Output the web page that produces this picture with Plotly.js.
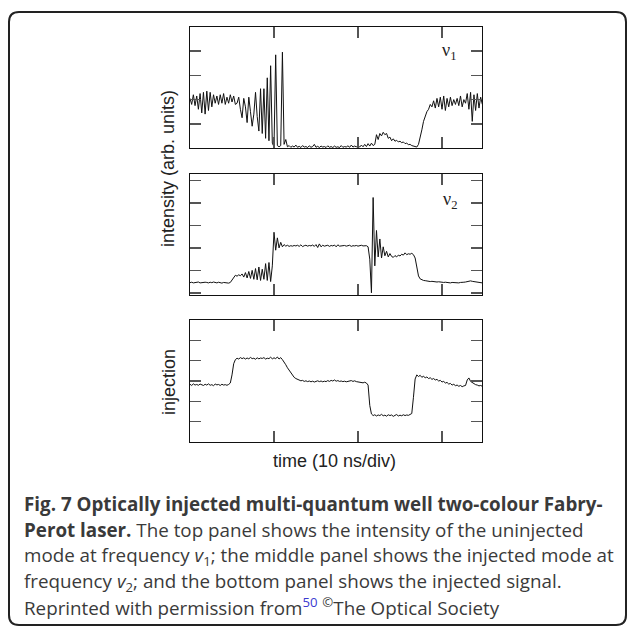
<!DOCTYPE html>
<html>
<head>
<meta charset="utf-8">
<script src="https://cdn.plot.ly/plotly-3.0.1.min.js"></script>
<style>html,body{margin:0;padding:0;background:#fff;}#chart{width:629px;height:628px;}</style>
</head>
<body>
<div id="chart"></div>
<script>
// Oscilloscope sample interval (divisions per sample); traces are sampled on a uniform time base
const dt = 0.02;

// Top panel: intensity of uninjected mode, nu1 (arb. units)
const nu1 = [2.05,1.80,2.20,1.75,2.15,1.60,2.25,1.45,2.30,1.40,
 2.35,1.55,2.30,1.70,2.20,1.85,2.15,1.80,2.20,1.85,
 2.25,1.80,2.10,1.85,2.20,1.90,2.15,1.80,1.85,2.10,
 1.60,1.25,2.05,1.70,1.05,2.10,1.50,0.90,1.40,2.30,
 1.30,0.70,2.45,0.60,2.45,0.40,2.90,0.30,3.40,0.20,
 0.05,3.85,0.10,0.05,0.10,3.96,0.15,0.35,0.05,0.10,
 0.03,0.08,0.04,0.12,0.03,0.07,0.02,0.10,0.04,0.06,
 0.02,0.09,0.03,0.06,0.15,0.03,0.07,0.02,0.08,0.04,
 0.06,0.02,0.09,0.03,0.06,0.02,0.08,0.03,0.05,0.02,
 0.10,0.03,0.06,0.04,0.09,0.03,0.12,0.04,0.08,0.05,
 0.10,0.04,0.12,0.05,0.15,0.06,0.18,0.08,0.20,0.10,
 0.15,0.55,0.35,0.60,0.50,0.65,0.55,0.60,0.40,0.45,
 0.30,0.38,0.28,0.32,0.25,0.28,0.22,0.25,0.18,0.20,
 0.14,0.15,0.10,0.08,0.05,0.04,0.15,0.40,0.75,1.10,
 1.30,1.50,1.60,1.80,1.70,1.95,1.65,2.05,1.70,2.10,
 1.60,2.15,1.55,2.05,1.70,2.10,1.75,2.00,1.80,2.05,
 1.75,2.15,1.70,2.00,1.85,2.25,1.60,2.30,1.10,2.20,
 1.55,2.25,1.65,2.10,1.80];

// Middle panel: intensity of injected mode, nu2 (arb. units)
const nu2 = [0.45,0.47,0.44,0.46,0.45,0.48,0.44,0.46,0.45,0.47,
 0.46,0.44,0.47,0.45,0.48,0.46,0.44,0.47,0.45,0.43,
 0.46,0.44,0.45,0.43,0.46,0.58,0.72,0.78,0.74,0.80,
 0.76,0.84,0.70,0.90,0.66,0.95,0.64,1.00,0.60,1.08,
 0.58,1.15,0.55,1.05,0.60,1.30,0.55,1.35,0.50,1.20,
 2.70,1.90,2.45,2.00,2.25,2.05,2.15,2.08,2.12,2.07,
 2.10,2.08,2.11,2.09,2.12,2.07,2.14,2.06,2.10,2.12,
 2.08,2.11,2.09,2.13,2.07,2.15,2.02,2.18,2.05,2.12,
 2.08,2.10,2.12,2.07,2.11,2.09,2.13,2.05,2.14,2.08,
 2.10,2.09,2.11,2.08,2.10,2.12,2.07,2.10,2.09,2.11,
 2.08,2.10,2.12,2.09,2.11,2.10,2.05,1.50,0.00,4.25,
 1.20,2.78,1.60,2.40,1.55,2.05,1.65,1.85,1.60,1.75,
 1.62,1.58,1.66,1.60,1.68,1.64,1.72,1.68,1.78,1.70,
 1.74,1.72,1.76,1.70,1.55,1.10,0.75,0.62,0.58,0.55,
 0.54,0.52,0.53,0.50,0.51,0.49,0.50,0.48,0.49,0.47,
 0.48,0.46,0.47,0.45,0.46,0.44,0.46,0.45,0.47,0.45,
 0.44,0.46,0.45,0.47,0.48,0.50,0.52,0.53,0.51,0.50,
 0.48,0.47,0.46,0.45,0.44];

// Bottom panel: injection signal (arb. units)
const injection = [2.84,2.78,2.86,2.80,2.83,2.79,2.85,2.81,2.78,2.84,
 2.80,2.86,2.79,2.82,2.77,2.85,2.81,2.83,2.78,2.84,
 2.80,2.82,2.79,2.83,2.90,3.30,3.85,4.05,4.12,4.08,
 4.15,4.10,4.14,4.08,4.13,4.09,4.16,4.10,4.12,4.07,
 4.14,4.09,4.13,4.11,4.15,4.08,4.12,4.10,4.17,4.09,
 4.14,4.10,4.18,4.08,4.15,4.05,3.95,3.80,3.65,3.52,
 3.40,3.28,3.18,3.12,3.07,3.04,3.01,3.03,2.98,3.01,
 2.97,3.00,2.96,2.99,2.95,2.98,3.01,2.97,3.00,2.96,
 2.99,2.97,3.02,2.98,3.03,3.00,3.05,2.99,3.02,2.98,
 3.00,2.97,2.99,2.96,2.98,3.00,3.02,2.98,3.01,2.97,
 2.96,2.93,2.95,2.91,2.94,2.90,2.80,1.80,1.38,1.30,
 1.34,1.28,1.33,1.30,1.36,1.29,1.32,1.27,1.34,1.30,
 1.33,1.26,1.31,1.35,1.28,1.32,1.29,1.34,1.30,1.33,
 1.31,1.35,1.40,2.20,3.10,3.30,3.22,3.28,3.18,3.24,
 3.15,3.20,3.12,3.16,3.08,3.12,3.05,3.08,3.00,3.03,
 2.95,2.98,2.90,2.93,2.85,2.88,2.80,2.84,2.77,2.80,
 2.74,2.78,2.72,2.76,2.78,3.05,3.15,2.98,2.92,2.86,
 2.82,2.80,2.76,2.78,2.74];

// Axis tick positions
const xTicks = [1, 2, 3];
const topTicks = [1, 2, 3, 4];
const midTicks = [0, 1, 2, 3, 4, 5];
const botTicks = [1, 2, 3, 4, 5];

// Text
const yLabelTop = "intensity (arb. units)";
const yLabelBot = "injection";
const xLabel = "time (10 ns/div)";
const captionLines = [
  "<b>Fig. 7 Optically injected multi-quantum well two-colour Fabry-</b>",
  "<b>Perot laser.</b> The top panel shows the intensity of the uninjected",
  "mode at frequency <i>v</i><sub>1</sub>; the middle panel shows the injected mode at",
  "frequency <i>v</i><sub>2</sub>; and the bottom panel shows the injected signal.",
  "Reprinted with permission from<sup><span style=\"color:#3a3ad0\">50</span></sup> <sup>©</sup>The Optical Society"
];

const time = nu1.map((_, i) => +(i * dt).toFixed(4));

// ---- layout geometry (pixels) ----
const L = 190, R = 482, T = 27, B = 442;
const X = p => (p - L) / (R - L);
const Y = p => (B - p) / (B - T);

const xBase = {
  range: [0, 3.476], tickvals: xTicks, ticks: 'inside', ticklen: 11, tickwidth: 1.5,
  tickcolor: '#555', showticklabels: false, showline: true, linecolor: '#111', linewidth: 1,
  mirror: 'ticks', showgrid: false, zeroline: false, domain: [0, 1]
};
const yBase = {
  ticks: 'inside', ticklen: 11, tickwidth: 1.5, tickcolor: '#555', showticklabels: false,
  showline: true, linecolor: '#111', linewidth: 1, mirror: 'ticks', showgrid: false, zeroline: false
};

const lineStyle = {color: '#111', width: 1};
const traces = [
  {x: time, y: nu1, xaxis: 'x', yaxis: 'y', mode: 'lines', line: lineStyle, hoverinfo: 'skip'},
  {x: time, y: nu2, xaxis: 'x2', yaxis: 'y2', mode: 'lines', line: lineStyle, hoverinfo: 'skip'},
  {x: time, y: injection, xaxis: 'x3', yaxis: 'y3', mode: 'lines', line: lineStyle, hoverinfo: 'skip'}
];

const bx0 = 9, bx1 = 626, by0 = 12, by1 = 625, r = 10;
const f = v => v.toFixed(5);
const borderPath =
  `M ${f(X(bx0 + r))},${f(Y(by0))} L ${f(X(bx1 - r))},${f(Y(by0))} ` +
  `Q ${f(X(bx1))},${f(Y(by0))} ${f(X(bx1))},${f(Y(by0 + r))} ` +
  `L ${f(X(bx1))},${f(Y(by1 - r))} Q ${f(X(bx1))},${f(Y(by1))} ${f(X(bx1 - r))},${f(Y(by1))} ` +
  `L ${f(X(bx0 + r))},${f(Y(by1))} Q ${f(X(bx0))},${f(Y(by1))} ${f(X(bx0))},${f(Y(by1 - r))} ` +
  `L ${f(X(bx0))},${f(Y(by0 + r))} Q ${f(X(bx0))},${f(Y(by0))} ${f(X(bx0 + r))},${f(Y(by0))} Z`;

const labelFont = {family: 'Liberation Sans, Arial, sans-serif', size: 18, color: '#222'};
const capFont = {family: 'Open Sans, Noto Sans, sans-serif', size: 18.8, color: '#3a3a3a'};
const capY = [504, 530, 556, 582, 607];

const annotations = [
  {xref: 'paper', yref: 'paper', x: X(168), y: Y(169), text: yLabelTop, textangle: -90,
   showarrow: false, xanchor: 'center', yanchor: 'middle', font: labelFont},
  {xref: 'paper', yref: 'paper', x: X(169), y: Y(382), text: yLabelBot, textangle: -90,
   showarrow: false, xanchor: 'center', yanchor: 'middle', font: labelFont},
  {xref: 'paper', yref: 'paper', x: X(334), y: Y(461), text: xLabel,
   showarrow: false, xanchor: 'center', yanchor: 'middle', font: labelFont},
  {xref: 'paper', yref: 'paper', x: X(449), y: Y(52), text: 'ν<sub>1</sub>',
   showarrow: false, xanchor: 'center', yanchor: 'middle',
   font: {family: 'Liberation Serif, serif', size: 18, color: '#222'}},
  {xref: 'paper', yref: 'paper', x: X(450), y: Y(200), text: 'ν<sub>2</sub>',
   showarrow: false, xanchor: 'center', yanchor: 'middle',
   font: {family: 'Liberation Serif, serif', size: 18, color: '#222'}}
];
captionLines.forEach((txt, k) => {
  annotations.push({xref: 'paper', yref: 'paper', x: X(22), y: Y(capY[k]), text: txt,
    showarrow: false, xanchor: 'left', yanchor: 'middle', align: 'left', font: capFont});
});

const layout = {
  width: 629, height: 628,
  margin: {l: L, r: 629 - R, t: T, b: 628 - B, pad: 0},
  paper_bgcolor: '#fff', plot_bgcolor: '#fff', showlegend: false,
  xaxis: Object.assign({}, xBase, {anchor: 'y'}),
  xaxis2: Object.assign({}, xBase, {anchor: 'y2'}),
  xaxis3: Object.assign({}, xBase, {anchor: 'y3'}),
  yaxis: Object.assign({}, yBase, {anchor: 'x', domain: [Y(148), Y(27)], range: [0, 5], tickvals: topTicks}),
  yaxis2: Object.assign({}, yBase, {anchor: 'x2', domain: [Y(295), Y(174)], range: [-0.1, 5.3], tickvals: midTicks}),
  yaxis3: Object.assign({}, yBase, {anchor: 'x3', domain: [Y(442), Y(320)], range: [0, 6], tickvals: botTicks}),
  shapes: [{type: 'path', xref: 'paper', yref: 'paper', path: borderPath,
    line: {color: '#222', width: 2}, fillcolor: 'rgba(0,0,0,0)'}],
  annotations: annotations
};

Plotly.newPlot('chart', traces, layout, {staticPlot: true, displayModeBar: false});
</script>
</body>
</html>
